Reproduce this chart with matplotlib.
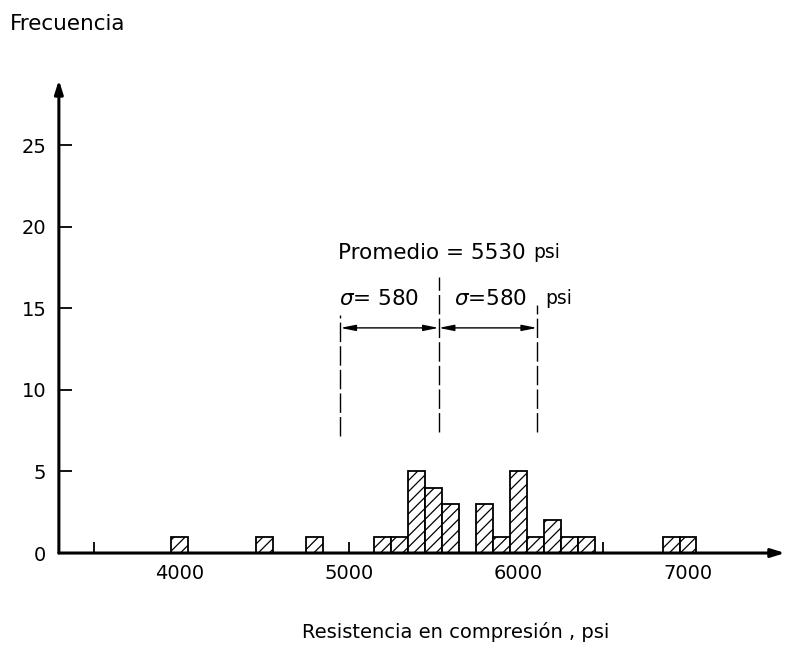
import matplotlib.pyplot as plt

# Datos (histograma de resistencias, intervalos de 100 psi)
centros = [4000, 4500, 4800, 5200, 5300, 5400, 5500, 5600,
           5800, 5900, 6000, 6100, 6200, 6300, 6400, 6900, 7000]
frecuencias = [1, 1, 1, 1, 1, 5, 4, 3,
               3, 1, 5, 1, 2, 1, 1, 1, 1]
ancho = 100
promedio = 5530
sigma = 580
xticks_menores = [3500, 4000, 4500, 5000, 5500, 6000, 6500, 7000]
xticks_etiquetas = [4000, 5000, 6000, 7000]
yticks = [0, 5, 10, 15, 20, 25]

plt.rcParams['hatch.linewidth'] = 0.9
fig = plt.figure(figsize=(7.85, 6.45), dpi=100)
ax = fig.add_axes([0.075, 0.1426, 0.925, 0.7335])

ax.bar(centros, frecuencias, width=ancho, color='white', edgecolor='black',
       linewidth=1.3, hatch='///', zorder=3)

ax.set_xlim(3290, 7572)
ax.set_ylim(0, 29)

for s in ax.spines.values():
    s.set_visible(False)

# ejes con flecha
flecha = dict(arrowstyle='-|>,head_length=0.8,head_width=0.25', lw=2.2,
              color='black', shrinkA=0, shrinkB=0)
ax.annotate('', xy=(0, 1), xytext=(0, 0), xycoords='axes fraction',
            arrowprops=flecha, annotation_clip=False, zorder=5)
ax.annotate('', xy=(1, 0), xytext=(0, 0), xycoords='axes fraction',
            arrowprops=flecha, annotation_clip=False, zorder=5)

ax.set_xticks(xticks_menores)
ax.set_xticklabels([str(v) if v in xticks_etiquetas else '' for v in xticks_menores])
ax.set_yticks(yticks)
ax.tick_params(axis='x', direction='in', length=8, width=1.3, pad=8, labelsize=14)
ax.tick_params(axis='y', direction='in', length=9, width=1.3, pad=9, labelsize=14)

# lineas de promedio y desviacion
ls = (0, (14, 3))
ax.plot([promedio, promedio], [7.4, 16.9], color='black', lw=1, ls=ls)
ax.plot([promedio - sigma] * 2, [7.2, 14.6], color='black', lw=1, ls=ls)
ax.plot([promedio + sigma] * 2, [7.4, 15.2], color='black', lw=1, ls=ls)

yflecha = 13.8
cota = dict(arrowstyle='<|-|>,head_length=0.9,head_width=0.18', lw=1,
            color='black', shrinkA=0, shrinkB=0)
ax.annotate('', xy=(promedio - sigma, yflecha), xytext=(promedio, yflecha),
            arrowprops=cota)
ax.annotate('', xy=(promedio, yflecha), xytext=(promedio + sigma, yflecha),
            arrowprops=cota)

ax.text(4935, 18.4, 'Promedio = 5530', fontsize=15.5, va='center', ha='left')
ax.text(6090, 18.4, 'psi', fontsize=13.5, va='center', ha='left')
ax.text(4940, 15.6, '$\\sigma$= 580', fontsize=15.5, va='center', ha='left')
ax.text(5620, 15.6, '$\\sigma$=580', fontsize=15.5, va='center', ha='left')
ax.text(6160, 15.6, 'psi', fontsize=13.5, va='center', ha='left')

fig.text(0.0127, 0.963, 'Frecuencia', fontsize=15.5, va='center', ha='left')
fig.text(0.581, 0.02, 'Resistencia en compresión , psi', fontsize=14,
         va='center', ha='center')

fig.savefig('out.png', dpi=100)
